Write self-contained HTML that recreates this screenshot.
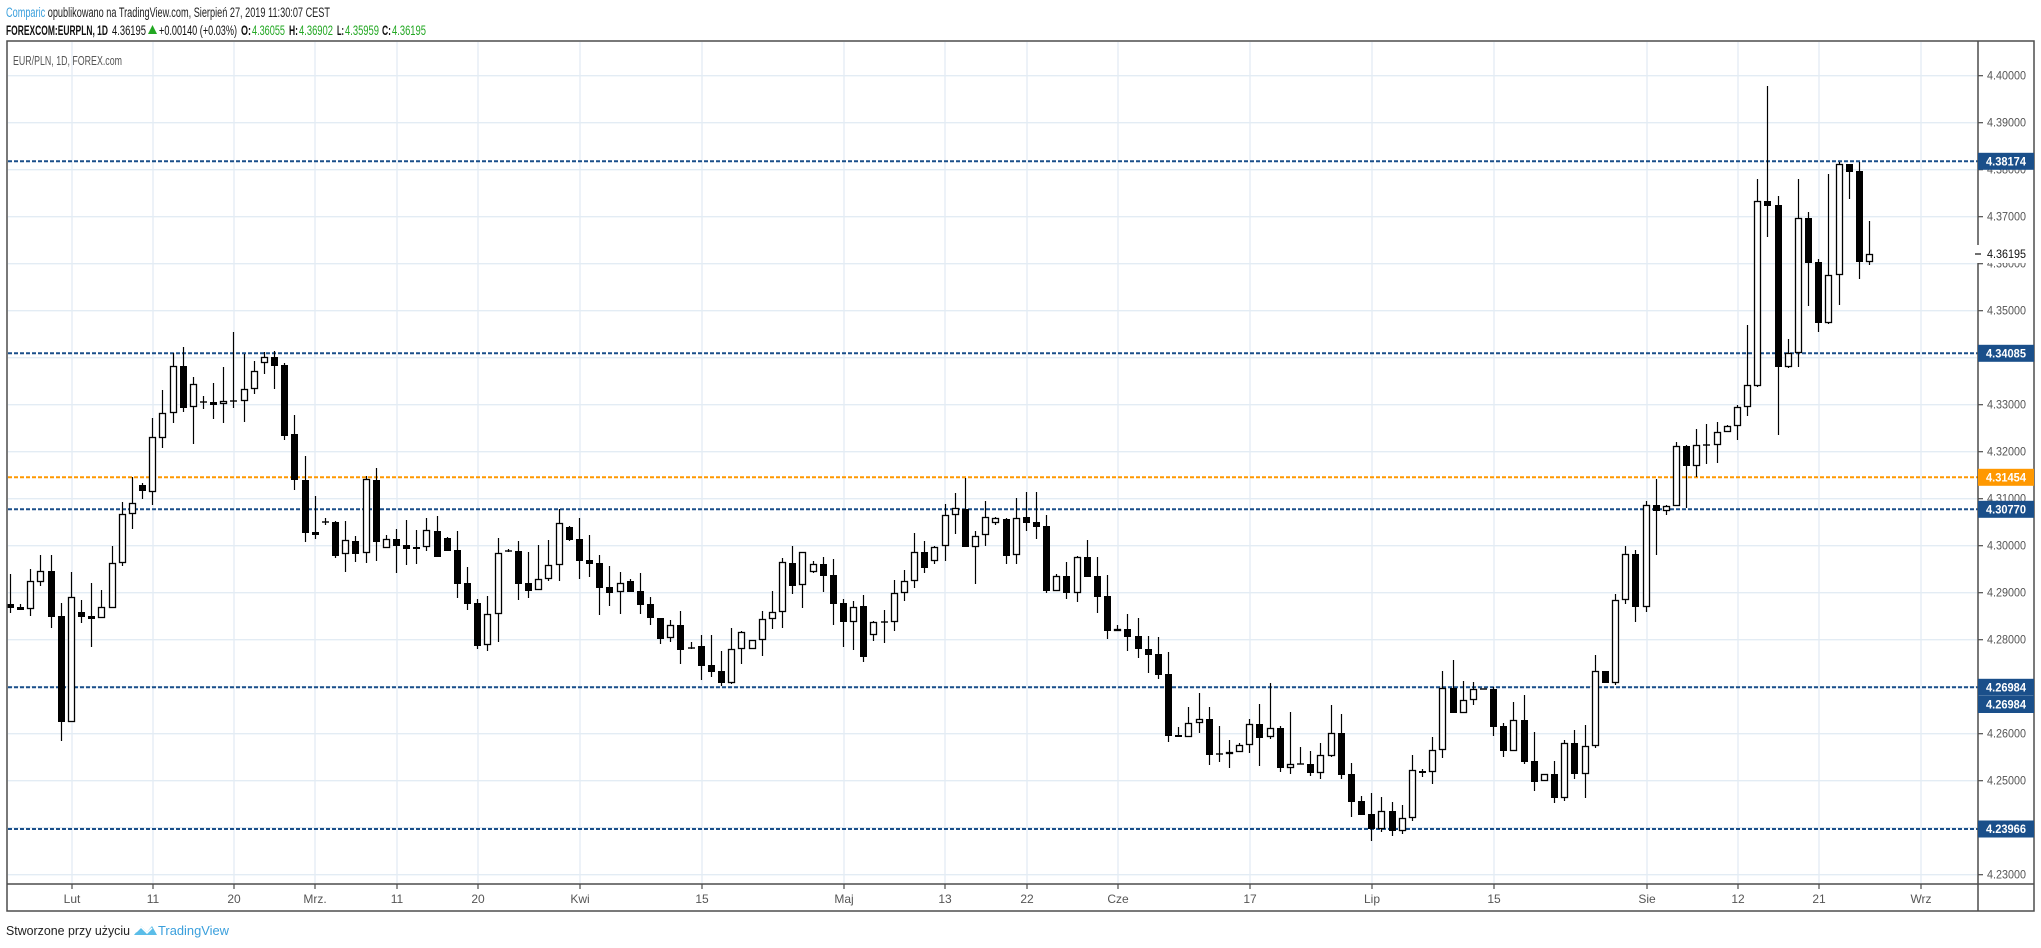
<!DOCTYPE html>
<html><head><meta charset="utf-8">
<style>
html,body{margin:0;padding:0;background:#fff;}
svg{display:block;}
text{font-family:"Liberation Sans",sans-serif;}
</style></head>
<body>
<svg id="s" width="2041" height="948" viewBox="0 0 2041 948" xmlns="http://www.w3.org/2000/svg">
<rect width="2041" height="948" fill="#fff"/>
<g id="grid" stroke="#e3ecf4" stroke-width="1.3"></g>
<g id="hl"></g>
<g id="candles"></g>
<g fill="none" stroke="#4d4d4d" stroke-width="1.5">
<rect x="7" y="41" width="2027" height="870"/>
<line x1="1978" y1="41" x2="1978" y2="911"/>
<line x1="7" y1="884" x2="2034" y2="884"/>
</g>
<g id="axis"></g>
<g id="xax"></g>
<text x="6" y="17" font-size="13.5" textLength="324" lengthAdjust="spacingAndGlyphs"><tspan fill="#3a9fdc">Comparic</tspan><tspan fill="#222"> opublikowano na TradingView.com, Sierpień 27, 2019 11:30:07 CEST</tspan></text>
<text x="6" y="35" font-size="13.5" fill="#111" textLength="102" lengthAdjust="spacingAndGlyphs" font-weight="bold">FOREXCOM:EURPLN, 1D</text>
<text x="112" y="35" font-size="13.5" fill="#111" textLength="34" lengthAdjust="spacingAndGlyphs">4.36195</text>
<polygon points="148,34 152.5,25 157,34" fill="#22a722"/>
<text x="159" y="35" font-size="13.5" fill="#111" textLength="78" lengthAdjust="spacingAndGlyphs">+0.00140 (+0.03%)</text>
<text x="241" y="35" font-size="13.5" fill="#111" font-weight="bold" textLength="10" lengthAdjust="spacingAndGlyphs">O:</text>
<text x="252" y="35" font-size="13.5" fill="#22a722" textLength="33" lengthAdjust="spacingAndGlyphs">4.36055</text>
<text x="289" y="35" font-size="13.5" fill="#111" font-weight="bold" textLength="9" lengthAdjust="spacingAndGlyphs">H:</text>
<text x="299" y="35" font-size="13.5" fill="#22a722" textLength="34" lengthAdjust="spacingAndGlyphs">4.36902</text>
<text x="337" y="35" font-size="13.5" fill="#111" font-weight="bold" textLength="7" lengthAdjust="spacingAndGlyphs">L:</text>
<text x="345" y="35" font-size="13.5" fill="#22a722" textLength="34" lengthAdjust="spacingAndGlyphs">4.35959</text>
<text x="382" y="35" font-size="13.5" fill="#111" font-weight="bold" textLength="9" lengthAdjust="spacingAndGlyphs">C:</text>
<text x="392" y="35" font-size="13.5" fill="#22a722" textLength="34" lengthAdjust="spacingAndGlyphs">4.36195</text>
<text x="13" y="65" font-size="13" fill="#555" textLength="109" lengthAdjust="spacingAndGlyphs">EUR/PLN, 1D, FOREX.com</text>
<text x="6" y="935" font-size="13" fill="#222" textLength="124" lengthAdjust="spacingAndGlyphs">Stworzone przy użyciu</text>
<path d="M134,935 L141,926 L147,932 L152,926 L157,935 Z" fill="#5bbde8"/>
<path d="M136,932 L141,927 L147,933 L152,928" fill="none" stroke="#fff" stroke-width="1.5"/>
<text x="158" y="935" font-size="13" fill="#3a9fdc" textLength="71" lengthAdjust="spacingAndGlyphs">TradingView</text>
</svg>
<script>
var NS="http://www.w3.org/2000/svg";
function el(p,t,a,txt){var e=document.createElementNS(NS,t);for(var k in a)e.setAttribute(k,a[k]);if(txt!==undefined)e.textContent=txt;document.getElementById(p).appendChild(e);return e;}
for(var i=0;i<=17;i++){var y=75.7+i*47;el("grid","line",{x1:8,x2:1977,y1:y,y2:y});}
var xl=[[72,"Lut"],[153,"11"],[234,"20"],[315,"Mrz."],[397,"11"],[478,"20"],[580,"Kwi"],[702,"15"],[844,"Maj"],[945,"13"],[1027,"22"],[1118,"Cze"],[1250,"17"],[1372,"Lip"],[1494,"15"],[1647,"Sie"],[1738,"12"],[1819,"21"],[1921,"Wrz"]];
xl.forEach(function(d){el("grid","line",{x1:d[0],x2:d[0],y1:42,y2:883});
 el("xax","line",{x1:d[0],x2:d[0],y1:884,y2:889,stroke:"#4d4d4d","stroke-width":1.2});
 el("xax","text",{x:d[0],y:903,"font-size":12,fill:"#555","text-anchor":"middle"},d[1]);});
for(var i=0;i<=17;i++){var p=4.40-i*0.01,y=75.7+i*47;
 el("axis","line",{x1:1978,x2:1983,y1:y,y2:y,stroke:"#4d4d4d","stroke-width":1.2});
 el("axis","text",{x:1987,y:y+4,"font-size":11.5,fill:"#555",textLength:39,lengthAdjust:"spacingAndGlyphs"},p.toFixed(5));}
el("axis","rect",{x:1977,y:245,width:56,height:18,fill:"#fff"});
el("axis","line",{x1:1975,x2:1981,y1:254,y2:254,stroke:"#111","stroke-width":1.2});
el("axis","text",{x:1987,y:258,"font-size":11.5,fill:"#111",textLength:39,lengthAdjust:"spacingAndGlyphs"},"4.36195");
var lv=[[161.3,"4.38174","#1a4f8a"],[353.3,"4.34085","#1a4f8a"],[477.3,"4.31454","#ff9800"],[509.3,"4.30770","#1a4f8a"],[687.3,"4.26984","#1a4f8a"],[829,"4.23966","#1a4f8a"]];
lv.forEach(function(d){el("hl","line",{x1:8,x2:1978,y1:d[0],y2:d[0],stroke:d[2],"stroke-width":2,"stroke-dasharray":"4 2"});
 el("axis","rect",{x:1978,y:d[0]-8.5,width:56,height:17,fill:d[2]});
 el("axis","text",{x:1986,y:d[0]+4,"font-size":11.5,"font-weight":"bold",fill:"#fff",textLength:40,lengthAdjust:"spacingAndGlyphs"},d[1]);});
el("axis","rect",{x:1978,y:696,width:56,height:17,fill:"#1a4f8a"});
el("axis","text",{x:1986,y:708.5,"font-size":11.5,"font-weight":"bold",fill:"#fff",textLength:40,lengthAdjust:"spacingAndGlyphs"},"4.26984");
var D=[[604,608,574,613,1],[607,610,604,610,1],[581,609,569,616,0],[571,582,555,586,0],[571,617,555,628,1],[616,722,603,741,1],[597,722,572,722,0],[612,617,600,623,1],[616,619,583,647,1],[607,618,590,618,0],[563,608,546,608,0],[514,563,502,566,0],[503,514,477,529,0],[485,491,483,499,1],[437,492,418,505,0],[413,438,390,448,0],[366,413,353,423,0],[366,408,347,412,1],[384,407,377,444,0],[402,403,396,409,2],[402,405,383,419,1],[401,404,367,423,0],[401,401,332,408,2],[389,401,354,422,0],[371,389,361,394,0],[357,363,352,374,0],[357,366,351,389,1],[365,436,363,440,1],[434,480,415,490,1],[480,533,456,542,1],[532,535,496,539,1],[522,522,518,525,2],[522,556,521,558,1],[540,554,521,572,0],[541,554,536,562,1],[479,553,476,563,0],[480,542,468,561,1],[539,548,535,548,0],[539,546,529,573,1],[545,549,520,565,1],[547,549,530,564,1],[530,547,518,551,0],[531,557,516,557,1],[538,551,537,551,1],[550,584,531,598,1],[583,604,567,610,1],[603,646,599,649,1],[614,645,596,651,0],[553,614,538,642,0],[551,551,549,552,2],[551,584,541,600,1],[583,591,552,598,1],[579,590,545,590,0],[565,579,540,581,0],[523,565,509,581,0],[527,540,526,541,1],[539,561,518,579,1],[560,564,535,577,1],[563,588,555,615,1],[587,593,566,606,1],[583,592,572,614,0],[581,592,579,592,1],[591,605,573,614,1],[604,618,597,625,1],[618,639,618,644,1],[625,638,620,642,0],[625,650,611,664,1],[648,648,642,649,2],[646,666,635,680,1],[665,672,635,677,1],[671,683,651,686,1],[649,683,628,684,0],[632,649,631,664,0],[640,649,640,649,0],[619,640,611,656,0],[612,619,591,629,0],[562,612,558,628,0],[563,586,546,594,1],[552,585,552,608,0],[564,572,561,573,0],[564,576,557,592,1],[575,604,559,625,1],[603,622,599,647,1],[607,622,601,650,0],[606,657,595,662,1],[622,635,621,641,0],[622,622,610,643,2],[593,622,580,631,0],[581,593,570,601,0],[552,581,533,588,0],[552,568,541,573,1],[547,561,546,564,0],[515,546,504,561,0],[508,515,493,534,0],[509,547,478,547,1],[536,547,531,584,0],[517,535,501,546,0],[518,523,517,525,0],[519,556,518,564,1],[518,555,498,564,0],[517,523,492,531,1],[522,527,492,539,1],[526,591,515,593,1],[576,591,574,591,0],[576,593,562,599,1],[557,593,556,602,0],[557,577,540,577,1],[576,597,557,613,1],[596,631,575,639,1],[629,631,625,631,0],[629,637,614,651,1],[636,649,618,658,1],[649,655,636,673,1],[654,675,637,679,1],[674,736,652,742,1],[735,737,727,737,1],[723,737,707,737,0],[719,723,693,733,0],[719,755,707,765,1],[754,754,726,762,2],[752,754,740,768,0],[745,752,743,752,0],[724,745,719,753,0],[724,738,704,766,1],[728,737,683,739,0],[728,768,726,772,1],[764,768,712,774,0],[764,764,747,764,2],[764,773,751,776,1],[755,773,743,779,0],[733,756,705,757,0],[733,775,714,779,1],[774,802,763,817,1],[801,815,796,815,1],[814,829,793,841,1],[811,829,797,832,0],[811,831,802,836,1],[818,831,805,834,0],[770,818,755,821,0],[771,773,769,777,1],[750,772,737,784,0],[688,750,671,758,0],[688,713,660,713,1],[700,713,681,713,0],[689,700,682,705,0],[689,689,689,689,2],[689,727,687,736,1],[726,751,723,757,1],[720,751,702,751,0],[720,762,695,764,1],[761,782,732,791,1],[774,781,774,781,0],[774,798,761,803,1],[743,798,740,801,0],[743,774,730,779,1],[746,774,725,798,0],[671,746,655,748,0],[671,683,671,683,1],[600,683,594,685,0],[554,600,546,604,0],[554,607,550,622,1],[505,607,501,612,0],[505,511,479,555,1],[506,511,505,515,0],[446,506,442,506,0],[446,466,445,508,1],[445,466,429,477,0],[445,445,424,464,2],[432,445,422,463,0],[426,432,425,432,0],[407,426,405,440,0],[385,407,325,416,0],[201,386,179,387,0],[201,206,86,237,1],[205,367,196,435,1],[353,367,339,368,0],[218,353,179,367,0],[218,263,212,306,1],[262,323,259,332,1],[275,323,174,324,0],[164,275,162,305,0],[164,172,164,199,1],[171,262,162,279,1],[254,262,221,265,0]];
var step=(1869-10)/(D.length-1);
D.forEach(function(d,i){var x=10+i*step,xc=Math.round(x)+0.5;
 if(d[2]<d[0]||d[3]>d[1]) el("candles","line",{x1:xc,x2:xc,y1:d[2],y2:d[3],stroke:"#000","stroke-width":1.2});
 var h=d[1]-d[0];
 if(d[4]==2||h<1.5){el("candles","rect",{x:xc-3.5,y:d[0]-0.7,width:7,height:Math.max(1.4,h),fill:"#000"});}
 else if(d[4]==1){el("candles","rect",{x:xc-3.5,y:d[0],width:7,height:h,fill:"#000"});}
 else{el("candles","rect",{x:xc-3,y:d[0]+0.5,width:6,height:Math.max(0.5,h-1),fill:"#fff",stroke:"#000","stroke-width":1.3});}
});
</script>
</body></html>
